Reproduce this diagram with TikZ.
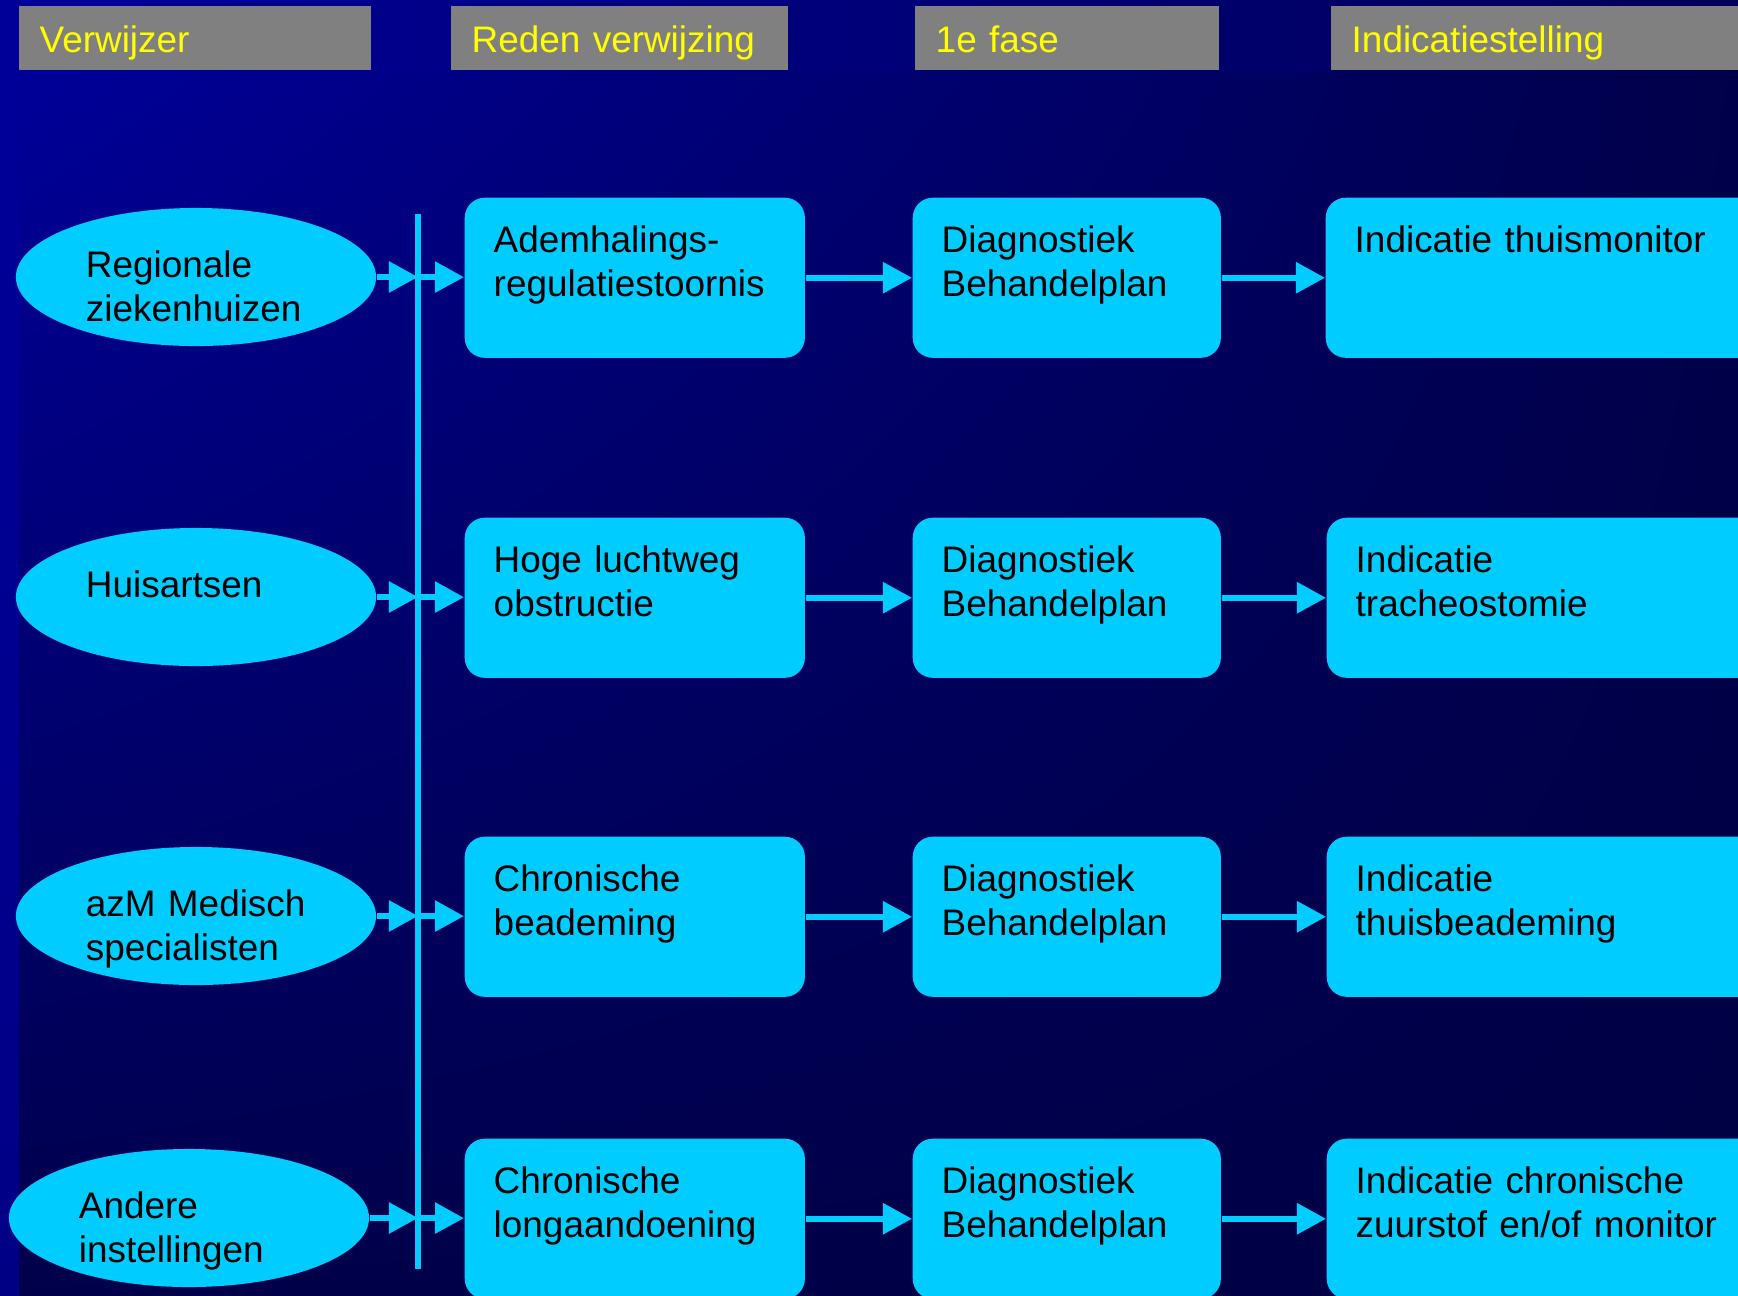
\documentclass[tikz,border=0pt]{standalone}
\usepackage{fontspec}
\setmainfont{Liberation Sans}
\usepackage{tikz}
\usetikzlibrary{shapes.geometric}
\usetikzlibrary{arrows.meta}
\usetikzlibrary{shadings}

\definecolor{slideblue}{HTML}{000099}
\definecolor{slidedark}{HTML}{00004A}
\definecolor{slidedeep}{HTML}{000044}
\definecolor{bandright}{HTML}{000058}
\definecolor{stripbottom}{HTML}{000085}
\definecolor{flowcyan}{HTML}{00CCFF}
\definecolor{headgray}{HTML}{808080}
\definecolor{headyellow}{HTML}{FFFF00}

\begin{document}
\begin{tikzpicture}[x=0.01cm, y=-0.01cm,
    ell/.style={ellipse, fill=flowcyan, minimum width=3.6cm, minimum height=1.38cm,
                inner sep=0pt, text width=2.2cm, align=left,
                text height=0.30cm, text depth=0.29cm},
    box/.style={fill=flowcyan, rounded corners=0.2cm, anchor=north west,
                inner xsep=0.29cm, inner ysep=0pt, align=left,
                text height=0.55cm, text depth=1.05cm},
    hdr/.style={fill=headgray, text=headyellow, anchor=north west,
                inner xsep=0.21cm, inner ysep=0pt, align=left,
                text height=0.47cm, text depth=0.17cm},
    arr/.style={draw=flowcyan, line width=0.057cm,
                -{Triangle[length=0.29cm, width=0.30cm]}}]
                    \useasboundingbox (0,0) rectangle (1738,1296);
                    \clip (0,0) rectangle (1738,1296);
                    {\fontsize{10.5}{12.5}\selectfont

                    % Drawing slide background
                    \shade [upper left=slideblue, upper right=slidedark, lower left=slidedark, lower right=slidedeep] (19,70) rectangle (1738,1296);%
                    \shade [left color=slideblue, right color=bandright] (0,0) rectangle (1738,70);%
                    \shade [top color=slideblue, bottom color=stripbottom] (0,70) rectangle (19,1296);%

                    % Drawing header bar
                    \node [hdr, text width=3.10cm] (hVerw) at (18,5) {Verwijzer};%
                    \node [hdr, text width=2.95cm] (hReden) at (450,5) {Reden verwijzing};%
                    \node [hdr, text width=2.62cm] (hFase) at (914,5) {1e fase};%
                    \node [hdr, text width=3.90cm] (hIndic) at (1330,5) {Indicatiestelling};%

                    % Drawing verwijzers
                    \node [ell] (ellA) at (196,277) {Regionale\\ziekenhuizen};%
                    \node [ell] (ellB) at (196,597) {Huisartsen};%
                    \node [ell] (ellC) at (196,916) {azM Medisch\\specialisten};%
                    \node [ell] (ellD) at (189,1218) {Andere\\instellingen};%

                    % Drawing collecting line
                    \coordinate (vTop) at (418,214);%
                    \coordinate (vBot) at (418,1269);%
                    \draw [draw=flowcyan, line width=0.055cm] (vTop) -- (vBot);%
                    \coordinate (jA) at (418,277);%
                    \coordinate (jB) at (418,597);%
                    \coordinate (jC) at (418,916);%
                    \coordinate (jD) at (418,1218);%

                    % Drawing reden verwijzing
                    \node [box, text width=2.82cm] (rsnA) at (464,197) {Ademhalings-\\regulatiestoornis};%
                    \node [box, text width=2.82cm] (rsnB) at (464,517) {Hoge luchtweg\\obstructie};%
                    \node [box, text width=2.82cm] (rsnC) at (464,836) {Chronische\\beademing};%
                    \node [box, text width=2.82cm] (rsnD) at (464,1138) {Chronische\\longaandoening};%

                    % Drawing 1e fase
                    \node [box, text width=2.50cm] (phA) at (912,197) {Diagnostiek\\Behandelplan};%
                    \node [box, text width=2.50cm] (phB) at (912,517) {Diagnostiek\\Behandelplan};%
                    \node [box, text width=2.50cm] (phC) at (912,836) {Diagnostiek\\Behandelplan};%
                    \node [box, text width=2.50cm] (phD) at (912,1138) {Diagnostiek\\Behandelplan};%

                    % Drawing indicatiestelling
                    \node [box, text width=3.82cm] (indA) at (1325,197) {Indicatie thuismonitor};%
                    \node [box, text width=3.82cm] (indB) at (1326,517) {Indicatie\\tracheostomie};%
                    \node [box, text width=3.82cm] (indC) at (1326,836) {Indicatie\\thuisbeademing};%
                    \node [box, text width=3.82cm] (indD) at (1326,1138) {Indicatie chronische\\zuurstof en/of monitor};%

                    % Drawing arrows row A
                    \draw [arr] (ellA) -- (jA);%
                    \draw [arr] (jA) -- (rsnA);%
                    \draw [arr] (rsnA) -- (phA);%
                    \draw [arr] (phA) -- (indA);%

                    % Drawing arrows row B
                    \draw [arr] (ellB) -- (jB);%
                    \draw [arr] (jB) -- (rsnB);%
                    \draw [arr] (rsnB) -- (phB);%
                    \draw [arr] (phB) -- (indB);%

                    % Drawing arrows row C
                    \draw [arr] (ellC) -- (jC);%
                    \draw [arr] (jC) -- (rsnC);%
                    \draw [arr] (rsnC) -- (phC);%
                    \draw [arr] (phC) -- (indC);%

                    % Drawing arrows row D
                    \draw [arr] (ellD) -- (jD);%
                    \draw [arr] (jD) -- (rsnD);%
                    \draw [arr] (rsnD) -- (phD);%
                    \draw [arr] (phD) -- (indD);%
                    }
\end{tikzpicture}
\end{document}
